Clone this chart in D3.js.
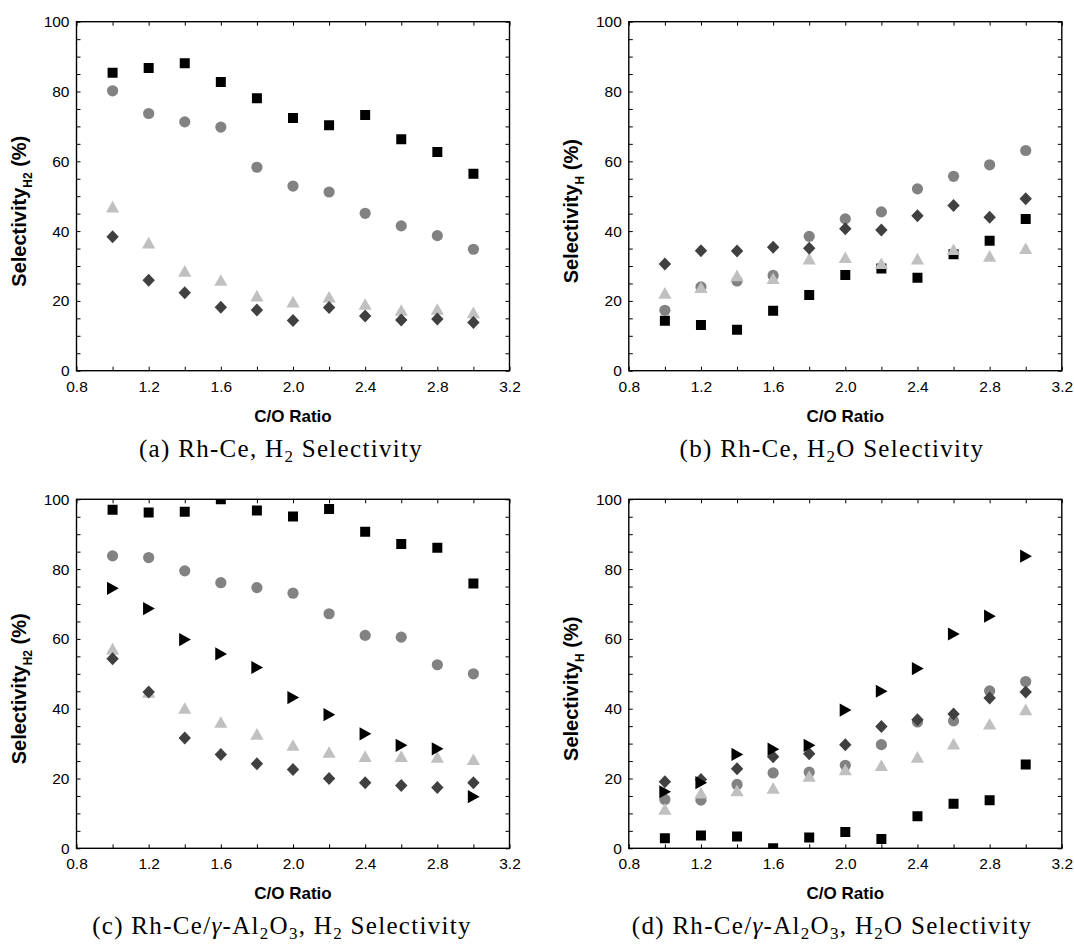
<!DOCTYPE html>
<html>
<head>
<meta charset="utf-8">
<script src="https://cdn.jsdelivr.net/npm/d3@7"></script>
<style>
  body { margin: 0; background: #fff; }
  svg { display: block; }
  .tick text { font-family: "Liberation Sans", Arial, sans-serif; font-size: 15.5px; fill: #000; }
  .tick line { stroke: #000; stroke-width: 1; }
</style>
</head>
<body>
<svg id="fig" width="1074" height="949"></svg>
<script>
// C/O ratios shared by every series
const coRatio = [1.0, 1.2, 1.4, 1.6, 1.8, 2.0, 2.2, 2.4, 2.6, 2.8, 3.0];
const xTickValues = [0.8, 1.0, 1.2, 1.4, 1.6, 1.8, 2.0, 2.2, 2.4, 2.6, 2.8, 3.0, 3.2];
const xTickLabels = ["0.8", "1.2", "1.6", "2.0", "2.4", "2.8", "3.2"];
const yTickValues = d3.range(0, 101, 5);
const yTickLabels = ["0", "20", "40", "60", "80", "100"];

// (a) Rh-Ce, H2 selectivity (%)
const aSquare   = [85.4, 86.7, 88.1, 82.7, 78.1, 72.4, 70.3, 73.3, 66.3, 62.7, 56.4];
const aCircle   = [80.2, 73.7, 71.3, 69.8, 58.3, 52.9, 51.2, 45.1, 41.5, 38.7, 34.8];
const aTriangle = [47.0, 36.7, 28.6, 26.0, 21.5, 19.8, 21.2, 19.1, 17.4, 17.7, 16.7];
const aDiamond  = [38.4, 25.9, 22.3, 18.2, 17.4, 14.4, 18.1, 15.7, 14.5, 14.8, 13.8];

// (b) Rh-Ce, H2O selectivity (%)
const bSquare   = [14.3, 13.1, 11.7, 17.2, 21.7, 27.4, 29.3, 26.6, 33.4, 37.2, 43.5];
const bCircle   = [17.3, 24.0, 25.7, 27.3, 38.5, 43.5, 45.5, 52.1, 55.7, 59.0, 63.1];
const bTriangle = [22.3, 23.9, 27.3, 26.5, 32.1, 32.5, 30.8, 32.1, 34.8, 32.9, 35.1];
const bDiamond  = [30.6, 34.4, 34.3, 35.4, 35.1, 40.7, 40.3, 44.4, 47.3, 44.0, 49.3];

// (c) Rh-Ce/γ-Al2O3, H2 selectivity (%)
const cSquare   = [97.0, 96.2, 96.4, 100.0, 96.8, 95.1, 97.2, 90.7, 87.2, 86.1, 75.9];
const cCircle   = [83.8, 83.3, 79.5, 76.1, 74.7, 73.1, 67.2, 61.0, 60.5, 52.6, 50.0];
const cTriangle = [57.2, 44.8, 40.2, 36.2, 32.8, 29.6, 27.6, 26.4, 26.4, 26.2, 25.5];
const cDiamond  = [54.3, 44.8, 31.6, 26.9, 24.2, 22.6, 20.0, 18.8, 18.0, 17.4, 18.8];
const cRight    = [74.5, 68.7, 59.8, 55.7, 51.8, 43.2, 38.3, 32.8, 29.5, 28.5, 14.8];

// (d) Rh-Ce/γ-Al2O3, H2O selectivity (%)
const dSquare   = [2.9, 3.7, 3.4, 0.0, 3.1, 4.7, 2.7, 9.2, 12.8, 13.8, 24.0];
const dCircle   = [14.0, 13.8, 18.3, 21.6, 21.8, 23.8, 29.7, 36.2, 36.5, 45.1, 47.8];
const dTriangle = [11.3, 15.9, 16.6, 17.3, 20.7, 22.6, 23.8, 26.2, 30.0, 35.7, 39.8];
const dDiamond  = [19.1, 19.7, 22.8, 26.2, 27.1, 29.7, 34.9, 36.8, 38.5, 43.1, 44.8];
const dRight    = [16.2, 18.8, 26.9, 28.4, 29.5, 39.6, 45.0, 51.5, 61.4, 66.5, 83.7];

// Marker shapes, each centred on its bounding box
const markerPaths = {
  square:   "M-5,-5H5V5H-5Z",
  circle:   "M-5.6,0A5.6,5.6 0 1,0 5.6,0A5.6,5.6 0 1,0 -5.6,0Z",
  triangle: "M0,-5.8L6.6,5.8H-6.6Z",
  diamond:  "M0,-6.5L6.2,0L0,6.5L-6.2,0Z",
  right:    "M-5.6,-6.6L6.2,0L-5.6,6.6Z"
};
const markerFill = {
  square: "#000000", circle: "#828282", triangle: "#c0c0c0",
  diamond: "#404040", right: "#000000"
};

const panels = [
  { left: 76.5, top: 21.7, sub: "H2",
    caption: [["(a) Rh-Ce, H"], ["2", "sub"], [" Selectivity"]], capX: 281,
    series: [["square", aSquare], ["circle", aCircle], ["triangle", aTriangle], ["diamond", aDiamond]] },
  { left: 628.8, top: 21.7, sub: "H",
    caption: [["(b) Rh-Ce, H"], ["2", "sub"], ["O Selectivity"]], capX: 832,
    series: [["square", bSquare], ["circle", bCircle], ["triangle", bTriangle], ["diamond", bDiamond]] },
  { left: 76.5, top: 499.3, sub: "H2",
    caption: [["(c) Rh-Ce/"], ["γ", "it"], ["-Al"], ["2", "sub"], ["O"], ["3", "sub"], [", H"], ["2", "sub"], [" Selectivity"]], capX: 282,
    series: [["square", cSquare], ["circle", cCircle], ["triangle", cTriangle], ["diamond", cDiamond], ["right", cRight]] },
  { left: 628.8, top: 499.3, sub: "H",
    caption: [["(d) Rh-Ce/"], ["γ", "it"], ["-Al"], ["2", "sub"], ["O"], ["3", "sub"], [", H"], ["2", "sub"], ["O Selectivity"]], capX: 832,
    series: [["square", dSquare], ["circle", dCircle], ["triangle", dTriangle], ["diamond", dDiamond], ["right", dRight]] }
];

const plotW = 433, plotH = 349;
const svg = d3.select("#fig");

panels.forEach((p, i) => {
  const g = svg.append("g").attr("transform", `translate(${p.left},${p.top})`);
  const x = d3.scaleLinear().domain([0.8, 3.2]).range([0, plotW]);
  const y = d3.scaleLinear().domain([0, 100]).range([plotH, 0]);
  const fmtX = d => { const s = d3.format(".1f")(d); return xTickLabels.includes(s) ? s : ""; };
  const fmtY = d => { const s = String(d); return yTickLabels.includes(s) ? s : ""; };

  // axes with inward ticks on all four sides
  const bottom = g.append("g").attr("transform", `translate(0,${plotH})`)
    .call(d3.axisBottom(x).tickValues(xTickValues).tickSize(-4).tickPadding(10).tickFormat(fmtX));
  const top = g.append("g")
    .call(d3.axisTop(x).tickValues(xTickValues).tickSize(-4).tickFormat(""));
  const left = g.append("g")
    .call(d3.axisLeft(y).tickValues(yTickValues).tickSize(-4).tickPadding(7).tickFormat(fmtY));
  const right = g.append("g").attr("transform", `translate(${plotW},0)`)
    .call(d3.axisRight(y).tickValues(yTickValues).tickSize(-4).tickFormat(""));
  [bottom, top, left, right].forEach(a => a.select(".domain").remove());

  // markers, clipped to the frame
  const clipId = "clip" + i;
  g.append("clipPath").attr("id", clipId)
    .append("rect").attr("width", plotW).attr("height", plotH);
  const marks = g.append("g").attr("clip-path", `url(#${clipId})`);
  p.series.forEach(([shape, values]) => {
    marks.append("g").selectAll("path")
      .data(values.map((v, k) => [coRatio[k], v]))
      .join("path")
      .attr("d", markerPaths[shape])
      .attr("fill", markerFill[shape])
      .attr("transform", d => `translate(${x(d[0])},${y(d[1])})`);
  });

  // frame
  g.append("rect").attr("width", plotW).attr("height", plotH)
    .attr("fill", "none").attr("stroke", "#000").attr("stroke-width", 1.4);

  // axis titles
  g.append("text")
    .attr("x", plotW / 2).attr("y", 400)
    .attr("text-anchor", "middle")
    .style("font-family", '"Liberation Sans", Arial, sans-serif')
    .style("font-weight", "bold").style("font-size", "17px")
    .text("C/O Ratio");

  const yt = g.append("text")
    .attr("transform", `translate(-51,${plotH / 2 + 15}) rotate(-90)`)
    .attr("text-anchor", "middle")
    .style("font-family", '"Liberation Sans", Arial, sans-serif')
    .style("font-weight", "bold").style("font-size", "20px");
  yt.append("tspan").text("Selectivity");
  yt.append("tspan").attr("dy", 6).style("font-size", "12px").text(p.sub);
  yt.append("tspan").attr("dy", -6).text(" (%)");

  // caption under the panel
  const cap = svg.append("text")
    .attr("x", p.capX).attr("y", p.top + 435)
    .attr("text-anchor", "middle")
    .style("font-family", '"Liberation Serif", "DejaVu Serif", serif')
    .style("font-size", "25px").style("letter-spacing", "1.3px");
  let shift = 0;
  p.caption.forEach(([t, kind]) => {
    const ts = cap.append("tspan").text(t);
    if (kind === "sub") {
      ts.attr("dy", 5 - shift).style("font-size", "17px"); shift = 5;
    } else {
      ts.attr("dy", -shift); shift = 0;
      if (kind === "it") ts.style("font-style", "italic");
    }
  });
});
</script>
</body>
</html>
